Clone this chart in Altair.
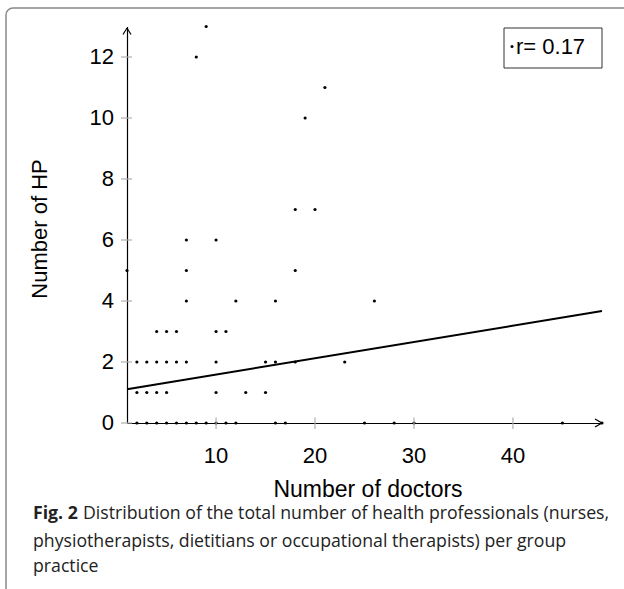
import altair as alt
import pandas as pd

# --- data ---
doctors = [2,3,4,5,6,7,8,9,10,11,12,16,17,25,28,30,45,49,
           2,3,4,5,10,13,15,
           2,3,4,5,6,7,10,15,16,18,23,
           4,5,6,10,11,
           7,12,16,26,
           1,7,18,
           7,10,
           18,20,
           19, 21, 8, 9]
hp = [0]*18 + [1]*7 + [2]*11 + [3]*5 + [4]*4 + [5]*3 + [6]*2 + [7]*2 + [10, 11, 12, 13]

reg_x = [1, 49]
reg_y = [1.11, 3.67]

x_ticks = [10, 20, 30, 40]
y_ticks = [0, 2, 4, 6, 8, 10, 12]

legend_text = "r= 0.17"
x_title = "Number of doctors"
y_title = "Number of HP"
cap_bold = "Fig. 2"
cap_line1 = "Distribution of the total number of health professionals (nurses,"
cap_line2 = "physiotherapists, dietitians or occupational therapists) per group"
cap_line3 = "practice"

FONT = "Liberation Sans"
CAPFONT = "Open Sans"
CAPSIZE = 17.7
TICKSIZE = 22

pts = pd.DataFrame({"doctors": doctors, "hp": hp})
reg = pd.DataFrame({"doctors": reg_x, "hp": reg_y})
xt = pd.DataFrame({"v": x_ticks})
yt = pd.DataFrame({"v": y_ticks})
one = alt.Data(values=[{"a": 1}])

xs = alt.Scale(domain=[1, 49], nice=False, zero=False)
ys = alt.Scale(domain=[0, 13], nice=False, zero=False)

x_axis = alt.Axis(values=x_ticks, title=None, ticks=False, grid=False, labels=False,
                  domainColor="black", domainWidth=1.2)
y_axis = alt.Axis(values=y_ticks, title=None, ticks=False, grid=False, labels=False,
                  domainColor="black", domainWidth=1.2)

W, H = 475, 396.5

frame = alt.Chart(one).mark_rect(
    fill=None, stroke="#888888", strokeWidth=1.5, cornerRadius=7
).encode(x=alt.value(-121), x2=alt.value(520), y=alt.value(-18.5), y2=alt.value(600))

# base layer carrying both axes
points = alt.Chart(pts).mark_circle(size=10, color="black", opacity=1).encode(
    x=alt.X("doctors:Q", scale=xs, axis=x_axis),
    y=alt.Y("hp:Q", scale=ys, axis=y_axis),
)

ytick_rules = alt.Chart(yt).mark_rule(color="#b0b0b0", strokeWidth=1.2).encode(
    y=alt.Y("v:Q", scale=ys), x=alt.value(-6), x2=alt.value(5)
)
xtick_rules = alt.Chart(xt).mark_rule(color="#b0b0b0", strokeWidth=1.2).encode(
    x=alt.X("v:Q", scale=xs), y=alt.value(391), y2=alt.value(402.5)
)

ytick_labels = alt.Chart(yt).mark_text(
    font=FONT, fontSize=TICKSIZE, align="right", baseline="middle", color="black"
).encode(y=alt.Y("v:Q", scale=ys), x=alt.value(-13), text=alt.Text("v:Q"))
xtick_labels = alt.Chart(xt).mark_text(
    font=FONT, fontSize=TICKSIZE, align="center", baseline="alphabetic", color="black"
).encode(x=alt.X("v:Q", scale=xs), y=alt.value(436), text=alt.Text("v:Q"))

line = alt.Chart(reg).mark_line(color="black", strokeWidth=2).encode(
    x=alt.X("doctors:Q", scale=xs), y=alt.Y("hp:Q", scale=ys)
)

def seg(x1, y1, x2, y2):
    return alt.Chart(one).mark_rule(color="black", strokeWidth=1.2).encode(
        x=alt.value(x1), y=alt.value(y1), x2=alt.value(x2), y2=alt.value(y2))

arrows = [seg(-4, 8, 0, 1.5), seg(0, 1.5, 4, 8),
          seg(W - 7, H - 4, W, H), seg(W - 7, H + 4, W, H)]

leg_box = alt.Chart(one).mark_rect(fill="white", stroke="#333333", strokeWidth=1).encode(
    x=alt.value(377), x2=alt.value(475), y=alt.value(1.5), y2=alt.value(41.5)
)
leg_dot = alt.Chart(one).mark_circle(size=9, color="black", opacity=1).encode(
    x=alt.value(385), y=alt.value(20)
)
leg_txt = alt.Chart(one).mark_text(
    font=FONT, fontSize=22, align="left", baseline="alphabetic", color="black"
).encode(x=alt.value(389), y=alt.value(27), text=alt.value(legend_text))

xtitle = alt.Chart(one).mark_text(
    font=FONT, fontSize=23, align="center", baseline="alphabetic", color="black"
).encode(x=alt.value(241), y=alt.value(470.5), text=alt.value(x_title))
ytitle = alt.Chart(one).mark_text(
    font=FONT, fontSize=22, align="center", baseline="middle", angle=270, color="black"
).encode(x=alt.value(-87), y=alt.value(202.5), text=alt.value(y_title))

c0 = alt.Chart(one).mark_text(
    font=CAPFONT, fontSize=CAPSIZE, fontWeight="bold", align="left", baseline="alphabetic", color="#222222"
).encode(x=alt.value(-94), y=alt.value(492.5), text=alt.value(cap_bold))
c1 = alt.Chart(one).mark_text(
    font=CAPFONT, fontSize=CAPSIZE, align="left", baseline="alphabetic", color="#222222"
).encode(x=alt.value(-44), y=alt.value(492.5), text=alt.value(cap_line1))
c2 = alt.Chart(one).mark_text(
    font=CAPFONT, fontSize=CAPSIZE, align="left", baseline="alphabetic", color="#222222"
).encode(x=alt.value(-94), y=alt.value(520.5), text=alt.value(cap_line2))
c3 = alt.Chart(one).mark_text(
    font=CAPFONT, fontSize=CAPSIZE, align="left", baseline="alphabetic", color="#222222"
).encode(x=alt.value(-94), y=alt.value(545.5), text=alt.value(cap_line3))

chart = alt.layer(
    points, frame, ytick_rules, xtick_rules, ytick_labels, xtick_labels, line, *arrows,
    leg_box, leg_dot, leg_txt, xtitle, ytitle, c0, c1, c2, c3
).properties(
    width=W, height=H,
    padding={"left": 127, "top": 26.5, "right": 22, "bottom": 166},
    autosize=alt.AutoSizeParams(type="none"),
    background="white",
).configure_view(stroke=None)

chart.save("out.html", embed_options={"renderer": "svg", "actions": False})
